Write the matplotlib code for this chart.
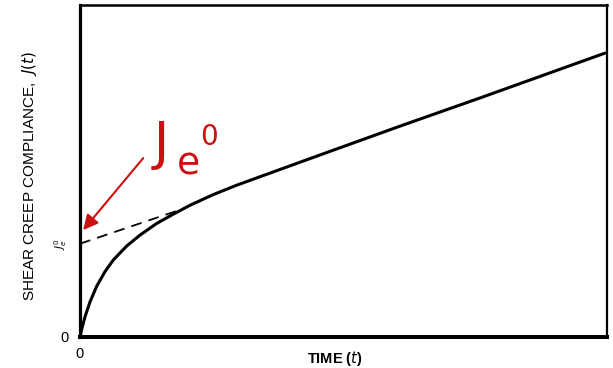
import matplotlib
matplotlib.use("Agg")
import matplotlib.pyplot as plt

# creep curve (arbitrary units, 0-100 on both axes)
time = [0, 0.3, 0.95, 1.9, 3.17, 4.74, 6.32, 8.86, 11.39, 14.55, 17.7, 20.9,
        25.3, 29.7, 34.2, 45.5, 60.7, 75.9, 99.6]
compliance = [0, 2.2, 6.1, 10.6, 15.3, 19.7, 23.2, 27.4, 30.7, 34.2, 37.0, 39.7,
              42.9, 45.7, 48.3, 54.8, 63.5, 72.0, 85.5]

# extrapolated steady-state line back to t = 0
dash_t = [0, 19.9]
dash_j = [28.1, 38.8]
je0 = 28.1

red = "#cc1010"

fig = plt.figure(figsize=(6.13, 3.68), dpi=100)
ax = fig.add_axes([80 / 613, 31 / 368, 527 / 613, 332 / 368])

ax.plot(time, compliance, color="black", lw=2.2, solid_capstyle="round",
        solid_joinstyle="round")
ax.plot(dash_t, dash_j, color="black", lw=1.3, dashes=(6, 4))

ax.set_xlim(0, 100)
ax.set_ylim(0, 100)

ax.spines["left"].set_linewidth(2.3)
ax.spines["bottom"].set_linewidth(2.9)
ax.spines["top"].set_linewidth(1.8)
ax.spines["right"].set_linewidth(1.6)

ax.set_xticks([0])
ax.set_xticklabels(["0"], fontsize=10.5, family="Liberation Sans")
ax.set_yticks([0, je0])
ax.set_yticklabels(["0", r"$J_e^0$"], fontsize=10.5, family="Liberation Sans")
ax.get_yticklabels()[1].set_rotation(90)
ax.get_yticklabels()[1].set_fontsize(7.5)
ax.get_yticklabels()[1].set_va("center")
ax.tick_params(axis="both", length=0)
ax.tick_params(axis="x", pad=7)
ax.tick_params(axis="y", pad=8)

fig.text(30 / 613, 1 - 176 / 368, "SHEAR CREEP COMPLIANCE,  $J(t)$", rotation=90,
         ha="center", va="center", fontsize=11, family="Liberation Sans")
fig.text(335 / 613, 1 - 358 / 368, "TIME ($t$)", ha="center", va="center",
         fontsize=10.5, fontweight="bold", family="Liberation Sans")

# red annotation
ax.annotate("", xy=(0.6, 32.2), xytext=(12.0, 53.9),
            arrowprops=dict(arrowstyle="-|>,head_length=0.9,head_width=0.45",
                            color=red, lw=1.5, shrinkA=0, shrinkB=0))
ax.text(14.0, 53.5, "J", color=red, fontsize=37, va="baseline", ha="left")
ax.text(18.3, 49.0, "e", color=red, fontsize=27, va="baseline", ha="left")
ax.text(22.8, 57.8, "0", color=red, fontsize=20, va="baseline", ha="left")

fig.savefig("out.png", dpi=100)
